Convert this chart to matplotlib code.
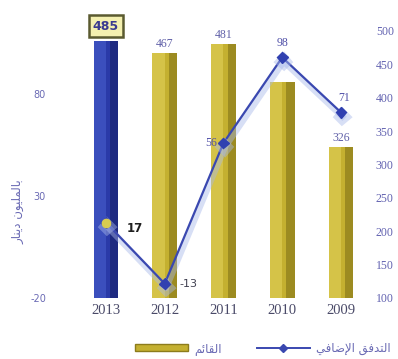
import numpy as np
import matplotlib
matplotlib.use("Agg")
import matplotlib.pyplot as plt
import matplotlib.patheffects as pe
from matplotlib.patches import Patch
from matplotlib.lines import Line2D

# data
years = ["2013", "2012", "2011", "2010", "2009"]
stock = [485, 467, 481, 424, 326]        # bars, right axis
flow = [17, -13, 56, 98, 71]             # line, left axis
right_ticks = [100, 150, 200, 250, 300, 350, 400, 450, 500]
left_ticks = [-20, 30, 80]

ylabel_txt = "بالمليون دينار"
leg_bar_txt = "القائم"
leg_line_txt = "التدفق الإضافي"


# minimal arabic shaping (no reshaper lib available)
FORMS = {
    "ا": ("\uFE8D", "\uFE8E", None, None),
    "إ": ("\uFE87", "\uFE88", None, None),
    "ب": ("\uFE8F", "\uFE90", "\uFE91", "\uFE92"),
    "ت": ("\uFE95", "\uFE96", "\uFE97", "\uFE98"),
    "د": ("\uFEA9", "\uFEAA", None, None),
    "ر": ("\uFEAD", "\uFEAE", None, None),
    "ض": ("\uFEBD", "\uFEBE", "\uFEBF", "\uFEC0"),
    "ف": ("\uFED1", "\uFED2", "\uFED3", "\uFED4"),
    "ق": ("\uFED5", "\uFED6", "\uFED7", "\uFED8"),
    "ل": ("\uFEDD", "\uFEDE", "\uFEDF", "\uFEE0"),
    "م": ("\uFEE1", "\uFEE2", "\uFEE3", "\uFEE4"),
    "ن": ("\uFEE5", "\uFEE6", "\uFEE7", "\uFEE8"),
    "و": ("\uFEED", "\uFEEE", None, None),
    "ي": ("\uFEF1", "\uFEF2", "\uFEF3", "\uFEF4"),
    "ئ": ("\uFE89", "\uFE8A", "\uFE8B", "\uFE8C"),
}
LAM_ALEF = {"ا": ("\uFEFB", "\uFEFC"), "إ": ("\uFEF9", "\uFEFA")}


def joins_left(ch):
    return ch in FORMS and FORMS[ch][2] is not None


def shape(text):
    # merge lam-alef
    chars = []
    i = 0
    while i < len(text):
        if text[i] == "ل" and i + 1 < len(text) and text[i + 1] in LAM_ALEF:
            chars.append(("LA", text[i + 1]))
            i += 2
        else:
            chars.append(("C", text[i]))
            i += 1
    out = []
    for k, (kind, ch) in enumerate(chars):
        prev = chars[k - 1] if k > 0 else None
        nxt = chars[k + 1] if k + 1 < len(chars) else None
        prev_joins = prev is not None and prev[0] == "C" and joins_left(prev[1])
        if kind == "LA":
            out.append(LAM_ALEF[ch][1 if prev_joins else 0])
            continue
        if ch not in FORMS:
            out.append(ch)
            continue
        next_ok = nxt is not None and (nxt[0] == "LA" or nxt[1] in FORMS)
        can_next = joins_left(ch) and next_ok
        iso, fin, ini, med = FORMS[ch]
        if prev_joins and can_next:
            out.append(med)
        elif prev_joins:
            out.append(fin)
        elif can_next:
            out.append(ini)
        else:
            out.append(iso)
    return "".join(out)[::-1]


x = np.arange(len(years))
bar_col = ["#2a3aa8"] + ["#c4b030"] * (len(years) - 1)
light_col = ["#4a62d0"] + ["#e4d45c"] * (len(years) - 1)
dark_col = ["#1a2470"] + ["#8c7c1c"] * (len(years) - 1)

fig = plt.figure(figsize=(3.98, 3.59), dpi=100)
ax = fig.add_axes([0.1925, 0.170, 0.738, 0.744])
ax2 = ax.twinx()

w = 0.42
ax.bar(x, np.array(stock) - 100, w, bottom=100, color=bar_col, zorder=2)
ax.bar(x - w / 4, np.array(stock) - 100, w / 2, bottom=100, color=light_col, zorder=2, alpha=0.55)
ax.bar(x + w / 3, np.array(stock) - 100, w / 3, bottom=100, color=dark_col, zorder=2, alpha=0.7)
ax.set_ylim(100, 500)
ax.set_xlim(-0.5, len(years) - 0.5)
ax.yaxis.tick_right()
ax.set_yticks(right_ticks)
ax.set_yticklabels([str(t) for t in right_ticks], family="Liberation Serif",
                   fontsize=8.5, color="#6262b0")
ax.set_xticks(x)
ax.set_xticklabels(years, family="Liberation Serif", fontsize=10.5, color="#4a4a68")
ax.tick_params(length=0, pad=4)
ax.tick_params(axis="y", pad=4)
for s in ax.spines.values():
    s.set_visible(False)

# bar value labels
for i, v in enumerate(stock):
    if i == 0:
        ax.text(x[i], v + 22, str(v), ha="center", va="center", fontsize=9,
                family="DejaVu Sans", fontweight="bold", color="#3a3a90",
                bbox=dict(boxstyle="square,pad=0.35", fc="#f4f0b0", ec="#5a5a30", lw=1.8),
                zorder=6)
    elif i == 3:
        continue
    else:
        ax.text(x[i], v + 4, str(v), ha="center", va="bottom", fontsize=8.5,
                family="Liberation Serif", color="#6060a8", zorder=6)

ax2.set_ylim(-19, 111)
ax2.yaxis.tick_left()
ax2.set_yticks(left_ticks)
ax2.set_yticklabels([str(t) for t in left_ticks], fontsize=7, color="#6a6ab4")
ax2.tick_params(length=0, pad=22)
for s in ax2.spines.values():
    s.set_visible(False)

ax2.plot(x, flow, color="#3a48b0", lw=1.6, marker="D", ms=5.5, mfc="#3040b0",
         mec="#3040b0", zorder=5,
         path_effects=[pe.SimpleLineShadow(offset=(1, -3), shadow_color="#a8b8ea",
                                           alpha=0.45, linewidth=4.5), pe.Normal()])
ax2.plot(x[:1], flow[:1], "o", ms=6, color="#d8cc50", zorder=6)

# line value labels
ax2.text(x[0] + 0.35, flow[0] - 3, str(flow[0]), fontsize=8.5, fontweight="bold",
         color="#202020", ha="left", va="center", zorder=7)
ax2.text(x[1] + 0.25, flow[1], str(flow[1]), fontsize=8, color="#404050",
         ha="left", va="center", zorder=7)
ax2.text(x[2] - 0.1, flow[2], str(flow[2]), fontsize=8.5, family="Liberation Serif",
         color="#5050a8", ha="right", va="center", zorder=7)
ax2.text(x[3], flow[3] + 4, str(flow[3]), fontsize=8.5, family="Liberation Serif",
         color="#5050a8", ha="center", va="bottom", zorder=7)
ax2.text(x[4] + 0.05, flow[4] + 4, str(flow[4]), fontsize=8.5, family="Liberation Serif",
         color="#5050a8", ha="center", va="bottom", zorder=7)

fig.text(0.045, 0.41, shape(ylabel_txt), rotation=90, ha="center", va="center",
         fontsize=8.5, color="#6a6ab4", family="DejaVu Sans")

handles = [Patch(facecolor="#c4b030", edgecolor="#8c7c1c"),
           Line2D([0], [0], color="#3a48b0", lw=1.4, marker="D", ms=4)]
fig.legend(handles, [shape(leg_bar_txt), shape(leg_line_txt)], ncol=2,
           loc="center", bbox_to_anchor=(0.66, 0.03), frameon=False,
           fontsize=8.5, labelcolor="#6a6ab4", handlelength=4.5, handleheight=0.6,
           columnspacing=3.0, handletextpad=0.5)

fig.savefig("out.png", dpi=100)
